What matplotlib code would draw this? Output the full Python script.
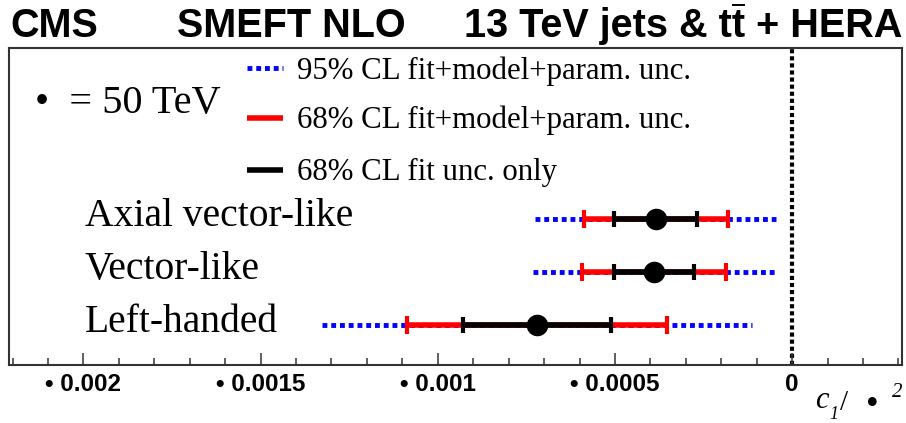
import matplotlib
matplotlib.use("Agg")
import matplotlib.pyplot as plt
from matplotlib.lines import Line2D

# values (c_1 / Lambda^2, Lambda = 50 TeV)
models = ["Axial vector-like", "Vector-like", "Left-handed"]
central = [-0.000384, -0.000390, -0.000719]
fit_lo = [-0.000502, -0.000502, -0.000928]      # 68% CL fit unc. only
fit_hi = [-0.000268, -0.000276, -0.000511]
tot68_lo = [-0.000587, -0.000592, -0.001086]    # 68% CL fit+model+param
tot68_hi = [-0.000181, -0.000186, -0.000353]
tot95_lo = [-0.000725, -0.000731, -0.001328]    # 95% CL fit+model+param
tot95_hi = [-0.000045, -0.000048, -0.000113]
ypos = [3, 2, 1]

major_ticks = [-0.002, -0.0015, -0.001, -0.0005, 0.0]
tick_labels = ["\u2022 0.002", "\u2022 0.0015", "\u2022 0.001", "\u2022 0.0005", "0"]
legend_labels = ["95% CL fit+model+param. unc.",
                 "68% CL fit+model+param. unc.",
                 "68% CL fit unc. only"]

serif = "Liberation Serif"
sans = "Liberation Sans"

fig = plt.figure(figsize=(9.06, 4.23), dpi=100)
ax = fig.add_axes([0.0099, 0.1371, 0.9857, 0.7494])

# zero line
ax.axvline(0, color="black", lw=3, ls=(0, (1.0, 0.7)), zorder=1)

for i in range(len(models)):
    y = ypos[i]
    ax.plot([tot95_lo[i], tot95_hi[i]], [y, y], color="#0000ff", lw=3.5,
            ls=(0, (1.0, 0.8)), dash_capstyle="butt", zorder=2)
    ax.errorbar(central[i], y,
                xerr=[[central[i] - tot68_lo[i]], [tot68_hi[i] - central[i]]],
                fmt="none", ecolor="#ff0000", elinewidth=4, capsize=6.5,
                capthick=3, zorder=3)
    ax.errorbar(central[i], y,
                xerr=[[central[i] - fit_lo[i]], [fit_hi[i] - central[i]]],
                fmt="none", ecolor="black", elinewidth=4, capsize=6,
                capthick=3, zorder=4)
    ax.plot(central[i], y, "o", color="black", ms=14.5, zorder=5)
    ax.text(0.0851, y - 0.13, models[i], transform=ax.get_yaxis_transform(),
            fontsize=28.5, family=serif, va="baseline", ha="left")

# legend drawn by hand
leg_styles = [dict(color="#0000ff", ls=(0, (1.0, 0.8)), lw=3.5),
              dict(color="#ff0000", ls="-", lw=4),
              dict(color="black", ls="-", lw=4)]
leg_y = [0.937, 0.779, 0.615]
leg_text_y = [0.902, 0.7476, 0.5836]
for st, ly, ty, lab in zip(leg_styles, leg_y, leg_text_y, legend_labels):
    ax.plot([0.2665, 0.3069], [ly, ly], transform=ax.transAxes,
            solid_capstyle="butt", dash_capstyle="butt", **st)
    ax.text(0.3225, ty, lab, transform=ax.transAxes, fontsize=22.2,
            family=serif, va="baseline", ha="left")

ax.text(0.029, 0.795, "\u2022  = 50 TeV", transform=ax.transAxes,
        fontsize=29, family=serif, va="baseline", ha="left")

ax.set_xlim(-0.00221, 0.00031)
ax.set_ylim(0.245, 6.226)
ax.set_xticks(major_ticks)
ax.set_xticklabels(tick_labels, fontsize=17.5, family=sans, fontweight="bold")
ax.set_xticks([k * 0.0001 for k in range(-22, 4)], minor=True)
ax.set_yticks([])
ax.tick_params(axis="x", which="major", direction="in", length=8.5,
               width=1.1, color="#333333", pad=6)
ax.tick_params(axis="x", which="minor", direction="in", length=5,
               width=1.1, color="#333333")
for sp in ax.spines.values():
    sp.set_color("#333333")
    sp.set_linewidth(1.5)

# header
hdr = dict(fontsize=28.5, family=sans, fontweight="bold", va="baseline")
fig.text(0.011, 0.912, "CMS", ha="left", **hdr)
fig.text(0.195, 0.912, "SMEFT NLO", ha="left", **hdr)
fig.text(0.996, 0.912, "13 TeV jets & tt + HERA", ha="right", **hdr)

# bar over the second t (measure the tail of the title)
renderer = fig.canvas.get_renderer()
tail = fig.text(0, 0, " + HERA", **hdr)
tch = fig.text(0, 0, "t", **hdr)
w_tail = tail.get_window_extent(renderer).width / fig.bbox.width
w_t = tch.get_window_extent(renderer).width / fig.bbox.width
tail.remove()
tch.remove()
x1 = 0.996 - w_tail
fig.add_artist(Line2D([x1 - w_t + 0.001, x1 - 0.001], [0.987, 0.987],
                      color="black", lw=1.4, transform=fig.transFigure))

# axis title c_1 / (bullet)^2, set piece by piece like the original
fig.text(0.8996, 0.0355, "c", fontsize=22, family=serif, style="italic",
         va="baseline", ha="left")
fig.text(0.9155, 0.0095, "1", fontsize=13, family=serif, style="italic",
         va="baseline", ha="left")
fig.text(0.927, 0.0307, "/", fontsize=21, family=serif,
         va="baseline", ha="left")
fig.text(0.9555, 0.0213, "\u2022", fontsize=26, family=serif,
         va="baseline", ha="left")
fig.text(0.9845, 0.0615, "2", fontsize=15, family=serif, style="italic",
         va="baseline", ha="left")

fig.savefig("out.png", dpi=100)
